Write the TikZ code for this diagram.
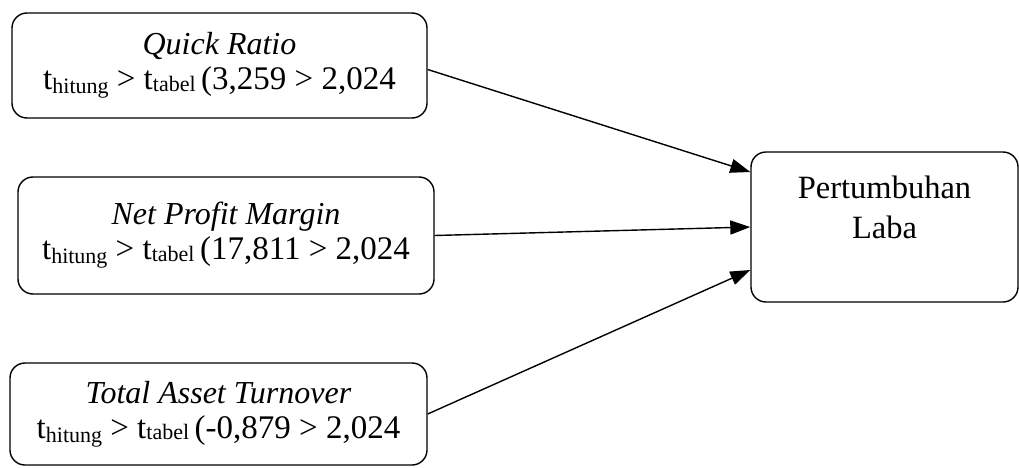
\documentclass[tikz,border=0pt]{standalone}
\usepackage{fontspec}
\setmainfont{Liberation Serif}
\usetikzlibrary{arrows.meta}

% t with a lowered small word after it
\newcommand{\tsub}[2][-3pt]{t\raisebox{#1}{\fontsize{22}{22}\selectfont #2}}
% the test line: t_hitung > t_tabel (values
\newcommand{\ttest}[1]{{\fontsize{33}{35}\selectfont
  \tsub[-4pt]{hitung} > \tsub[-1.5pt]{tabel}\,(#1 > 2,024}}

\begin{document}
\begin{tikzpicture}[
  x=1pt, y=1pt,
  varbox/.style={draw, line width=1.4pt, rounded corners=15pt, align=center,
    font=\fontsize{32}{35}\selectfont, inner sep=0pt},
  depbox/.style={varbox, font=\fontsize{32.5}{40}\selectfont},
  link/.style={line width=1.4pt, -{Triangle[length=20pt,width=14pt]}},
]
\useasboundingbox (0,0) rectangle (1019,467);

% ─── Independent variables ────────────────────────────────────────────────
\node[varbox, minimum width=415pt, minimum height=105pt] (qr) at (219.5,401.5)
  {\textit{Quick Ratio}\\ \ttest{3,259}};
\node[varbox, minimum width=416pt, minimum height=117pt] (npm) at (226,231.5)
  {\textit{Net Profit Margin}\\ \ttest{17,811}};
\node[varbox, minimum width=417pt, minimum height=102pt] (tato) at (218.5,53)
  {\textit{Total Asset Turnover}\\ \ttest{-0,879}};

% ─── Dependent variable ───────────────────────────────────────────────────
\node[depbox, minimum width=267pt, minimum height=150pt] (laba) at (884.5,240)
  {Pertumbuhan\\Laba\\~};

% ─── Effects ──────────────────────────────────────────────────────────────
\draw[link] ([yshift=-4pt]qr.east) -- ([yshift=55pt]laba.west);
\draw[link] (npm.east) -- (laba.west);
\draw[link] (tato.east) -- ([yshift=-43pt]laba.west);

\end{tikzpicture}
\end{document}
